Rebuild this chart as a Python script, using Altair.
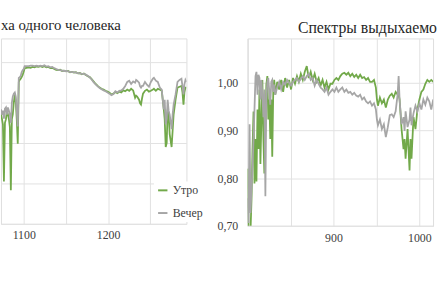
import altair as alt
import pandas as pd

GREEN = "#72a94a"
GRAY = "#a6a6a6"
GRID = "#e2e2e2"
FONT = "Times New Roman"

series_names = ["Утро", "Вечер"]

# ---------- left panel (partial) ----------
left_w = [1073.0, 1074.2, 1075.3, 1076.5, 1077.7, 1078.9, 1080.0, 1081.2, 1082.4, 1083.5,
          1084.7, 1085.9, 1087.0, 1088.2, 1089.4, 1090.5, 1091.7, 1092.9, 1094.1, 1095.2,
          1096.4, 1097.5, 1098.7, 1099.9, 1101.1, 1103.4, 1105.8, 1108.1, 1110.4, 1112.8,
          1115.1, 1117.5, 1119.8, 1122.1, 1124.5, 1126.8, 1129.2, 1131.5, 1133.8, 1136.2,
          1138.5, 1140.9, 1143.2, 1145.5, 1147.9, 1150.2, 1152.6, 1154.9, 1157.2, 1159.6,
          1161.9, 1164.3, 1166.6, 1168.9, 1171.3, 1173.6, 1176.0, 1178.3, 1180.6, 1183.0,
          1185.3, 1187.7, 1190.0, 1192.3, 1194.7, 1197.0, 1199.4, 1201.7, 1204.0, 1206.4,
          1208.7, 1211.1, 1213.4, 1215.7, 1218.1, 1220.4, 1222.8, 1225.1, 1227.4, 1229.8,
          1232.1, 1233.3, 1234.5, 1236.8, 1238.0, 1239.1, 1240.3, 1241.5, 1243.8, 1246.1,
          1248.5, 1250.8, 1253.2, 1254.4, 1256.7, 1259.0, 1261.4, 1263.7, 1266.1, 1267.2,
          1268.4, 1269.6, 1270.7, 1271.9, 1273.1, 1275.4, 1276.6, 1277.8, 1280.1, 1282.4,
          1284.8, 1287.1, 1288.3, 1289.5, 1290.6, 1291.8, 1293.0]
left_morning = [0.871, 0.859, 0.846, 0.705, 0.850, 0.859, 0.880, 0.871, 0.859, 0.840,
                0.683, 0.859, 0.871, 0.900, 0.920, 0.905, 0.859, 0.798, 0.951, 0.956,
                0.959, 0.963, 0.968, 0.976, 0.985, 0.986, 0.987, 0.986, 0.988, 0.987,
                0.989, 0.988, 0.990, 0.988, 0.990, 0.987, 0.988, 0.985, 0.986, 0.983,
                0.981, 0.980, 0.981, 0.978, 0.979, 0.977, 0.978, 0.975, 0.976, 0.974,
                0.975, 0.972, 0.973, 0.970, 0.972, 0.968, 0.965, 0.963, 0.958, 0.952,
                0.946, 0.941, 0.937, 0.934, 0.932, 0.929, 0.927, 0.924, 0.920, 0.922,
                0.926, 0.923, 0.927, 0.925, 0.930, 0.928, 0.932, 0.929, 0.934, 0.930,
                0.912, 0.917, 0.915, 0.907, 0.898, 0.895, 0.910, 0.922, 0.929, 0.932,
                0.927, 0.929, 0.932, 0.934, 0.929, 0.934, 0.932, 0.929, 0.883, 0.859,
                0.790, 0.800, 0.883, 0.870, 0.822, 0.790, 0.830, 0.871, 0.907, 0.937,
                0.939, 0.941, 0.925, 0.895, 0.925, 0.937, 0.937]
left_evening = [0.883, 0.870, 0.880, 0.860, 0.885, 0.888, 0.870, 0.888, 0.880, 0.870,
                0.850, 0.900, 0.915, 0.922, 0.925, 0.915, 0.880, 0.841, 0.961, 0.963,
                0.966, 0.975, 0.980, 0.983, 0.990, 0.990, 0.990, 0.991, 0.991, 0.990,
                0.991, 0.990, 0.991, 0.990, 0.992, 0.989, 0.990, 0.987, 0.988, 0.985,
                0.983, 0.981, 0.980, 0.979, 0.978, 0.978, 0.977, 0.976, 0.975, 0.975,
                0.974, 0.973, 0.972, 0.971, 0.971, 0.969, 0.966, 0.962, 0.957, 0.950,
                0.945, 0.940, 0.936, 0.933, 0.930, 0.928, 0.925, 0.922, 0.918, 0.921,
                0.928, 0.925, 0.929, 0.930, 0.934, 0.941, 0.951, 0.954, 0.946, 0.952,
                0.949, 0.956, 0.954, 0.949, 0.940, 0.937, 0.941, 0.941, 0.951, 0.944,
                0.939, 0.951, 0.959, 0.961, 0.954, 0.951, 0.937, 0.932, 0.883, 0.907,
                0.846, 0.860, 0.907, 0.880, 0.870, 0.834, 0.870, 0.895, 0.920, 0.951,
                0.956, 0.959, 0.940, 0.920, 0.945, 0.956, 0.951]

# ---------- right panel (partial) ----------
right_w = [800.0, 801.1, 802.3, 803.4, 804.6, 805.7, 806.9, 808.0, 809.2, 810.3,
           811.5, 812.6, 813.8, 814.9, 816.1, 817.2, 818.4, 819.5, 820.7, 821.8,
           823.0, 824.1, 825.3, 826.4, 827.6, 828.7, 829.9, 831.0, 832.2, 834.5,
           836.8, 839.1, 841.4, 843.7, 846.0, 848.3, 850.6, 852.9, 855.2, 857.5,
           859.7, 862.0, 864.3, 866.6, 868.9, 871.2, 873.5, 875.8, 878.1, 880.4,
           882.7, 885.0, 887.3, 889.6, 891.9, 894.2, 896.5, 898.8, 901.1, 903.4,
           905.7, 908.0, 910.3, 912.7, 915.0, 917.3, 919.6, 921.9, 924.2, 926.5,
           928.8, 931.1, 933.4, 935.7, 938.0, 940.3, 942.6, 944.9, 947.2, 949.4,
           950.6, 951.8, 954.1, 956.4, 958.7, 961.0, 963.3, 965.6, 967.9, 970.1,
           972.4, 974.7, 975.9, 977.0, 979.3, 981.6, 982.8, 984.0, 986.3, 988.6,
           989.7, 990.9, 993.2, 995.5, 997.8, 1000.1, 1002.4, 1004.7, 1007.0, 1009.3,
           1011.6, 1013.9, 1016.2]
right_morning = [0.820, 0.690, 0.690, 0.690, 0.758, 0.861, 0.940, 0.789, 0.882, 0.793,
                 0.944, 0.861, 0.986, 0.830, 0.923, 1.006, 0.882, 0.810, 0.903, 0.996,
                 1.014, 0.923, 0.965, 0.882, 0.965, 0.845, 0.986, 1.006, 0.975, 1.002,
                 0.986, 1.006, 0.981, 1.010, 0.990, 1.006, 0.986, 1.010, 0.998, 1.014,
                 1.002, 1.019, 1.006, 1.023, 1.035, 1.010, 1.023, 1.006, 1.019, 1.002,
                 1.010, 0.994, 1.006, 0.990, 1.002, 0.986, 0.998, 0.998, 1.006, 1.010,
                 1.006, 1.014, 1.019, 1.021, 1.017, 1.021, 1.014, 1.019, 1.012, 1.017,
                 1.010, 1.017, 1.010, 1.012, 1.006, 1.010, 1.002, 1.002, 1.006, 0.990,
                 0.965, 0.952, 0.969, 0.957, 0.965, 0.948, 0.965, 0.973, 0.977, 0.969,
                 0.981, 0.975, 0.975, 0.965, 0.903, 0.861, 0.882, 0.841, 0.903, 0.816,
                 0.882, 0.841, 0.928, 0.903, 0.944, 0.965, 0.981, 0.986, 0.998, 1.006,
                 1.002, 1.006, 1.002]
right_evening = [0.758, 0.706, 0.913, 0.727, 0.778, 0.820, 0.882, 0.944, 1.014, 1.023,
                 0.975, 1.017, 1.010, 0.965, 1.006, 0.975, 0.928, 0.986, 0.762, 0.965,
                 1.002, 1.010, 0.981, 0.954, 1.002, 1.006, 0.981, 0.996, 0.975, 0.990,
                 1.002, 0.986, 1.002, 0.996, 1.006, 1.000, 0.994, 1.002, 1.006, 1.010,
                 1.002, 1.008, 1.014, 1.006, 1.014, 1.019, 1.006, 1.010, 0.994, 1.006,
                 0.998, 0.990, 0.986, 0.981, 0.990, 0.975, 0.981, 0.986, 0.981, 0.990,
                 0.981, 0.986, 0.990, 0.981, 0.986, 0.979, 0.981, 0.975, 0.979, 0.973,
                 0.971, 0.975, 0.965, 0.969, 0.961, 0.957, 0.961, 0.952, 0.957, 0.944,
                 0.923, 0.911, 0.923, 0.903, 0.913, 0.886, 0.907, 0.932, 0.934, 0.928,
                 0.940, 0.975, 1.014, 0.965, 0.913, 0.928, 0.899, 0.940, 0.907, 0.923,
                 0.948, 0.911, 0.936, 0.952, 0.940, 0.957, 0.944, 0.965, 0.954, 0.969,
                 0.961, 0.944, 0.965]

left_title = "ха одного человека"
right_title = "Спектры выдыхаемо"
left_ticks = [1100, 1150, 1200, 1250]
right_ticks = [800, 850, 900, 950, 1000]
left_grid_y = [0.6, 0.7, 0.8, 0.9, 1.0]
right_grid_y = [0.7, 0.8, 0.9, 1.0]


def long_df(w, a, b):
    return pd.DataFrame({
        "w": list(w) + list(w),
        "v": list(a) + list(b),
        "s": [series_names[0]] * len(w) + [series_names[1]] * len(w),
    })


df_left = long_df(left_w, left_morning, left_evening)
df_right = long_df(right_w, right_morning, right_evening)

legend = alt.Legend(
    orient="none", legendX=155, legendY=145, title=None,
    symbolType="stroke", symbolStrokeWidth=2, symbolSize=90,
    labelFont=FONT, labelFontSize=12, labelColor="#404040",
    rowPadding=11, fillColor="white", padding=3, labelOffset=4,
)
color = alt.Color("s:N", scale=alt.Scale(domain=series_names, range=[GREEN, GRAY]), legend=legend)

x_label_expr = "(datum.value == 1100 || datum.value == 1200 || datum.value == 900 || datum.value == 1000) ? datum.label : ''"

left = alt.Chart(df_left).mark_line(strokeWidth=1.8, clip=True).encode(
    x=alt.X("w:Q", scale=alt.Scale(domain=[1073, 1293], nice=False, zero=False),
            axis=alt.Axis(values=left_ticks, format="d", labelExpr=x_label_expr, title=None,
                          grid=True, gridColor=GRID, ticks=False, domainColor=GRID,
                          labelFont=FONT, labelFontSize=12, labelColor="#404040",
                          labelPadding=6, labelOverlap=False)),
    y=alt.Y("v:Q", scale=alt.Scale(domain=[0.6, 1.0585], nice=False, zero=False),
            axis=alt.Axis(values=left_grid_y, labels=False, ticks=False, domain=False,
                          title=None, grid=True, gridColor=GRID)),
    color=color,
).properties(
    width=188, height=188,
    title=alt.TitleParams(left_title, anchor="start", frame="group", font=FONT, fontSize=15,
                          fontWeight="normal", color="#262626", baseline="alphabetic", offset=-6),
)

right = alt.Chart(df_right).mark_line(strokeWidth=1.8, clip=True).encode(
    x=alt.X("w:Q", scale=alt.Scale(domain=[800, 1016], nice=False, zero=False),
            axis=alt.Axis(values=right_ticks, format="d", labelExpr=x_label_expr, title=None,
                          grid=True, gridColor=GRID, ticks=False, domainColor=GRID,
                          labelFont=FONT, labelFontSize=12, labelColor="#404040",
                          labelPadding=7, labelOverlap=False)),
    y=alt.Y("v:Q", scale=alt.Scale(domain=[0.7, 1.093], nice=False, zero=False),
            axis=alt.Axis(values=right_grid_y,
                          labelExpr="replace(format(datum.value, '.2f'), '.', ',')",
                          ticks=False, domainColor=GRID, title=None, grid=True, gridColor=GRID,
                          labelFont=FONT, labelFontSize=12, labelColor="#404040",
                          labelPadding=10, labelOverlap=False)),
    color=color,
).properties(
    width=188, height=190,
    title=alt.TitleParams(right_title, anchor="start", frame="group", dx=51, font=FONT,
                          fontSize=16, fontWeight="normal", color="#262626",
                          baseline="alphabetic", offset=-10),
)

chart = alt.hconcat(left, right, spacing=62, bounds="flush").properties(
    padding={"left": 0, "top": 15, "right": 0, "bottom": 40},
).configure_view(stroke=None).configure(background="white", font=FONT)

chart.save("out.html", embed_options={"renderer": "svg", "actions": False})
